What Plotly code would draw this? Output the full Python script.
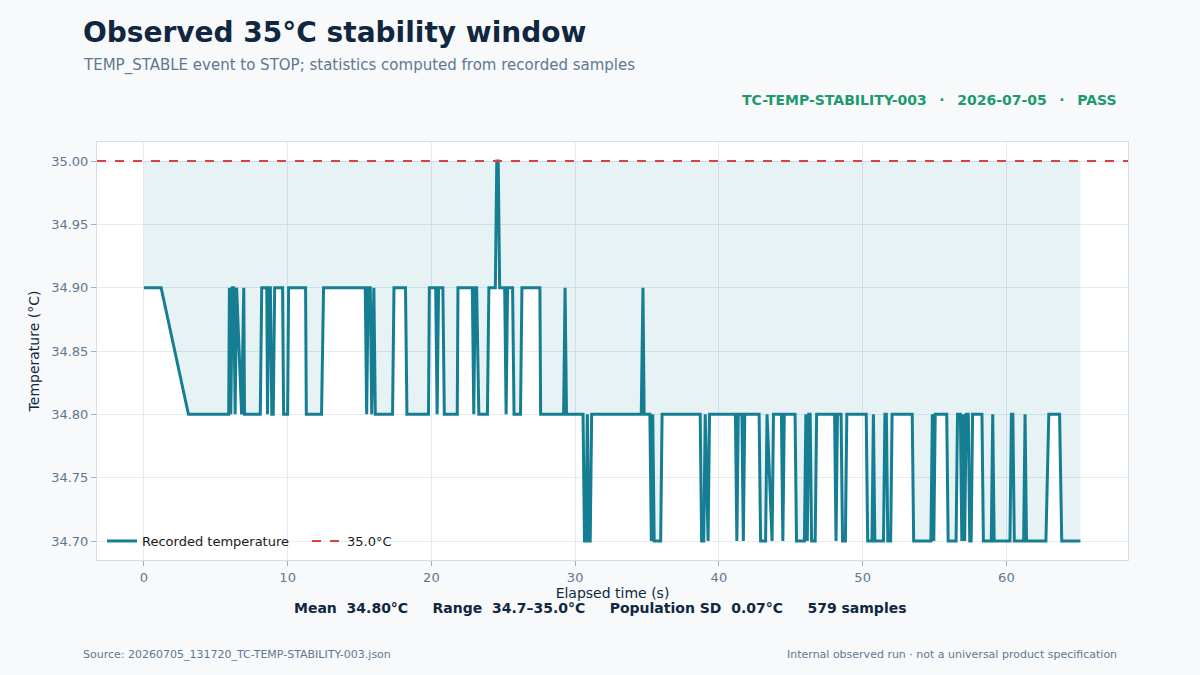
import plotly.graph_objects as go

# ---- data (run endpoints of the recorded series) ----
elapsed_s = [
    0.0, 1.2, 3.1, 5.9, 5.95, 6.05, 6.15, 6.25, 6.35, 6.45, 6.8, 6.95, 7.0, 8.1, 8.2, 8.55, 8.6, 8.7, 8.8,
    8.9, 9.0, 9.1, 9.65, 9.72, 10.0, 10.07, 11.25, 11.3, 12.36, 12.5, 15.4, 15.5, 15.6, 15.75, 15.85,
    15.95, 16.0, 16.1, 17.3, 17.4, 18.2, 18.3, 19.8, 19.86, 20.3, 20.4, 20.5, 20.8, 20.9, 21.8, 21.85,
    22.85, 22.95, 23.05, 23.15, 23.3, 23.9, 24.0, 24.45, 24.55, 24.65, 24.75, 25.1, 25.2, 25.3, 25.65,
    25.75, 26.2, 26.3, 27.55, 27.6, 29.2, 29.3, 29.4, 30.55, 30.65, 30.75, 30.85, 30.95, 31.05, 31.15,
    34.6, 34.72, 34.8, 35.2, 35.3, 35.4, 35.5, 35.95, 36.05, 38.7, 38.8, 38.95, 39.05, 39.25, 39.35,
    41.15, 41.25, 41.35, 41.6, 41.7, 41.8, 42.8, 42.9, 43.25, 43.35, 43.7, 43.8, 44.35, 44.45, 44.55,
    45.3, 45.4, 45.95, 46.05, 46.15, 46.25, 46.35, 46.45, 46.7, 46.8, 48.05, 48.15, 48.25, 48.5, 48.6,
    48.8, 48.9, 50.25, 50.35, 50.65, 50.75, 50.85, 51.45, 51.55, 51.65, 51.75, 51.95, 52.05, 53.45,
    53.55, 54.75, 54.85, 54.95, 55.05, 55.15, 55.85, 55.95, 56.5, 56.6, 56.8, 56.9, 57.0, 57.1, 57.2,
    57.35, 57.45, 57.55, 57.65, 57.9, 58.0, 58.3, 58.4, 58.95, 59.05, 59.15, 60.25, 60.35, 60.45,
    60.55, 61.2, 61.3, 61.4, 62.75, 62.95, 63.7, 63.85, 65.15,
]
temp_c = [
    34.9, 34.9, 34.8, 34.8, 34.9, 34.8, 34.9, 34.9, 34.8, 34.9, 34.8, 34.9, 34.8, 34.8, 34.9, 34.9, 34.8, 34.9, 34.9,
    34.8, 34.8, 34.9, 34.9, 34.8, 34.8, 34.9, 34.9, 34.8, 34.8, 34.9, 34.9, 34.8, 34.9, 34.9, 34.8,
    34.9, 34.9, 34.8, 34.8, 34.9, 34.9, 34.8, 34.8, 34.9, 34.9, 34.8, 34.9, 34.9, 34.8, 34.8, 34.9,
    34.9, 34.8, 34.9, 34.9, 34.8, 34.8, 34.9, 34.9, 35.0, 35.0, 34.9, 34.9, 34.8, 34.9, 34.9,
    34.8, 34.8, 34.9, 34.9, 34.8, 34.8, 34.9, 34.8, 34.8, 34.7, 34.7, 34.8, 34.7, 34.7, 34.8,
    34.8, 34.9, 34.8, 34.8, 34.7, 34.8, 34.7, 34.7, 34.8, 34.8, 34.7, 34.7, 34.8, 34.7, 34.8,
    34.8, 34.7, 34.8, 34.8, 34.7, 34.8, 34.8, 34.7, 34.7, 34.8, 34.7, 34.8, 34.8, 34.7, 34.8,
    34.8, 34.7, 34.7, 34.8, 34.7, 34.8, 34.8, 34.7, 34.7, 34.8, 34.8, 34.7, 34.8, 34.8, 34.7,
    34.7, 34.8, 34.8, 34.7, 34.7, 34.8, 34.7, 34.7, 34.8, 34.8, 34.7, 34.7, 34.8, 34.8,
    34.7, 34.7, 34.8, 34.7, 34.8, 34.8, 34.8, 34.7, 34.7, 34.8, 34.8, 34.7, 34.8, 34.7, 34.8,
    34.8, 34.7, 34.7, 34.8, 34.8, 34.8, 34.8, 34.7, 34.7, 34.8, 34.7, 34.7, 34.8, 34.8,
    34.7, 34.7, 34.8, 34.7, 34.7, 34.8, 34.8, 34.7, 34.7,
]
TARGET_C = 35.0
x_ticks = [0, 10, 20, 30, 40, 50, 60]
y_ticks = [34.70, 34.75, 34.80, 34.85, 34.90, 34.95, 35.00]

TITLE = "Observed 35°C stability window"
SUBTITLE = "TEMP_STABLE event to STOP; statistics computed from recorded samples"
SEP = "\u00a0\u00a0\u2009·\u00a0\u00a0\u2009"
BADGE = SEP.join(["TC-TEMP-STABILITY-003", "2026-07-05", "PASS"])
GAP = "\u00a0" * 5
STATS = GAP.join(["Mean\u00a0 34.80°C", "Range\u00a0 34.7–35.0°C", "Population SD\u00a0 0.07°C", "579 samples"])
SOURCE = "Source: 20260705_131720_TC-TEMP-STABILITY-003.json"
NOTE = "Internal observed run · not a universal product specification"

FONT = "DejaVu Sans"
NAVY = "#10273f"
MUTED = "#5f7891"
TEAL = "#167e92"
RED = "#dc4040"
GREEN = "#1e9a6e"

# pixel layout of the plotting area
L, R, T, B = 97, 72, 142, 115
W, H = 1200, 675
PW, PH = W - L - R, H - T - B


def px_x(p):
    return (p - L) / PW


def px_y(p):
    return (H - B - p) / PH


fig = go.Figure()

# invisible reference at the target level, used as the upper boundary of the shaded window
fig.add_trace(go.Scatter(x=elapsed_s, y=[TARGET_C] * len(elapsed_s), mode="lines",
                         line=dict(width=0), hoverinfo="skip", showlegend=False))
fig.add_trace(go.Scatter(x=elapsed_s, y=temp_c, mode="lines", line=dict(width=0),
                         fill="tonexty", fillcolor="rgba(22,126,146,0.10)",
                         hoverinfo="skip", showlegend=False))
fig.add_trace(go.Scatter(x=elapsed_s, y=temp_c, mode="lines", name="Recorded temperature",
                         line=dict(color=TEAL, width=3)))
fig.add_hline(y=TARGET_C, line=dict(color=RED, width=2, dash="dash"))
fig.add_trace(go.Scatter(x=[None], y=[None], mode="lines", name=f"{TARGET_C:.1f}°C",
                         line=dict(color=RED, width=2, dash="dash")))

annotations = [
    dict(text=f"<b>{TITLE}</b>", x=px_x(81), y=px_y(32), xanchor="left", yanchor="middle",
         font=dict(size=28, color=NAVY, family=FONT)),
    dict(text=SUBTITLE, x=px_x(81), y=px_y(66), xanchor="left", yanchor="middle",
         font=dict(size=15, color=MUTED, family=FONT)),
    dict(text=f"<b>{BADGE}</b>", x=px_x(1119), y=px_y(100), xanchor="right", yanchor="middle",
         font=dict(size=14, color=GREEN, family=FONT)),
    dict(text=f"<b>{STATS}</b>", x=px_x(600), y=px_y(608), xanchor="center", yanchor="middle",
         font=dict(size=14, color=NAVY, family=FONT)),
    dict(text=SOURCE, x=px_x(81), y=px_y(654), xanchor="left", yanchor="middle",
         font=dict(size=11, color=MUTED, family=FONT)),
    dict(text=NOTE, x=px_x(1119), y=px_y(654), xanchor="right", yanchor="middle",
         font=dict(size=11, color=MUTED, family=FONT)),
]
for a in annotations:
    a.update(xref="paper", yref="paper", showarrow=False)

fig.update_layout(
    width=W, height=H,
    margin=dict(l=L, r=R, t=T, b=B),
    paper_bgcolor="#f7f9fb",
    plot_bgcolor="#ffffff",
    font=dict(family=FONT, color=NAVY, size=13),
    showlegend=True,
    legend=dict(orientation="h", traceorder="normal", x=px_x(102), y=px_y(541),
                xanchor="left", yanchor="middle", bgcolor="rgba(0,0,0,0)",
                entrywidth=160, entrywidthmode="pixels",
                font=dict(size=13, color="#1a1a1a", family=FONT)),
    annotations=annotations,
)
fig.update_xaxes(
    range=[-3.26, 68.46], tickvals=x_ticks, ticks="outside", ticklen=5, tickcolor="#9fb0c2",
    tickfont=dict(size=13, color=MUTED), showgrid=True, gridcolor="#e4ebf1", gridwidth=1,
    zeroline=False, showline=True, linecolor="#d5dfe9", mirror=True,
    title=dict(text="Elapsed time (s)", font=dict(size=14, color=NAVY), standoff=4),
)
fig.update_yaxes(
    range=[34.685, 35.015], tickvals=y_ticks, tickformat=".2f", ticks="outside", ticklen=5,
    tickcolor="#9fb0c2", tickfont=dict(size=13, color=MUTED), showgrid=True, gridcolor="#e4ebf1",
    gridwidth=1, zeroline=False, showline=True, linecolor="#d5dfe9", mirror=True,
    title=dict(text="Temperature (°C)", font=dict(size=14, color=NAVY), standoff=8),
)

fig.write_html("out.html", config={"displayModeBar": False},
               post_script="document.body.style.margin='0';")
